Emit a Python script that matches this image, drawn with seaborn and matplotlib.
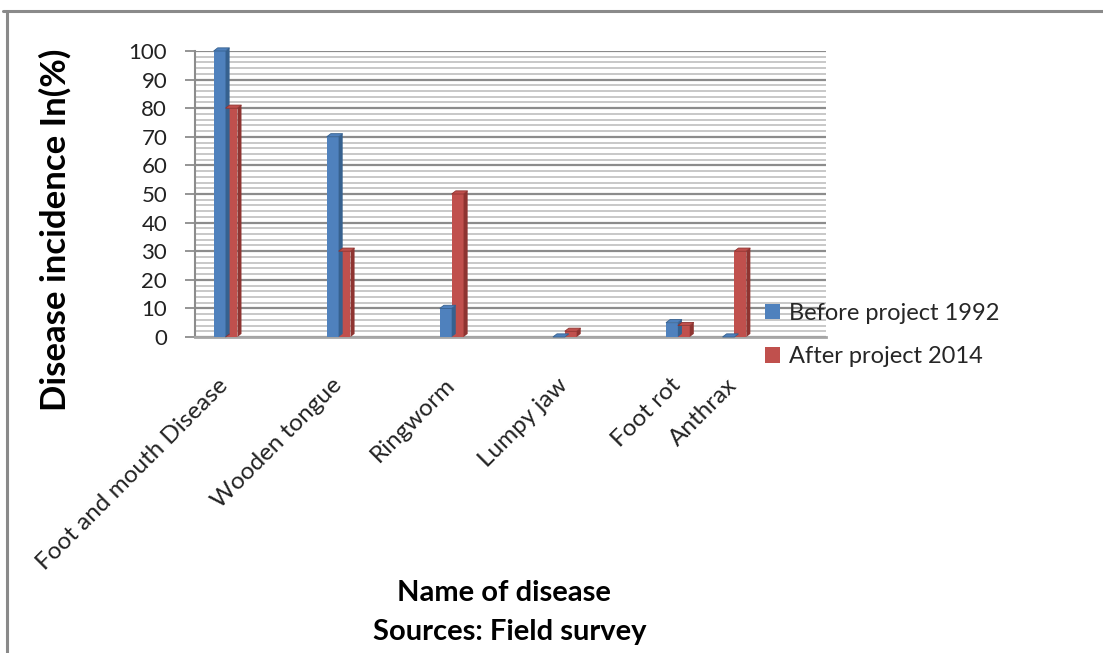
import matplotlib
matplotlib.use('Agg')
import numpy as np
import pandas as pd
import matplotlib.pyplot as plt
import matplotlib.transforms as mtransforms
from matplotlib.patches import Polygon
from matplotlib.lines import Line2D
import seaborn as sns

# ---- data ----
diseases = ["Foot and mouth Disease", "Wooden tongue", "Ringworm",
            "Lumpy jaw", "Foot rot", "Anthrax"]
before_1992 = [100, 70, 10, 0, 5, 0]
after_2014 = [80, 30, 50, 2, 4, 30]
series_names = ["Before project 1992", "After project 2014"]
y_ticks = list(range(0, 101, 10))

# category slots on the axis (Anthrax sits half a slot after Foot rot)
slot = [0, 1, 2, 3, 4, 4.5]

blue, red = "#4F81BD", "#C0504D"
blue_dark, red_dark = "#36618F", "#8E3431"

df = pd.DataFrame({
    "pos": slot * 2,
    "value": before_1992 + after_2014,
    "period": [series_names[0]] * len(diseases) + [series_names[1]] * len(diseases),
})

sns.set_theme(style="white")
plt.rcParams['font.family'] = ['Lato', 'DejaVu Sans']

fig = plt.figure(figsize=(11.03, 6.53), dpi=100)
ax = fig.add_axes([195 / 1103, 1 - 337 / 653, (826 - 195) / 1103, (337 - 51) / 653])

sns.barplot(data=df, x="pos", y="value", hue="period", native_scale=True,
            palette=[blue, red], width=0.42, gap=0, ax=ax, saturation=1,
            linewidth=0, zorder=3)

ax.set_xlim(-0.27, 5.31)
ax.set_ylim(0, 100)

# grid: light every 2, darker every 10
for v in np.arange(0, 101, 2):
    major = v % 10 == 0
    ax.axhline(v, color="#8C8C8C" if major else "#C4C4C4",
               lw=1.6 if major else 1.3, zorder=1)

# fake 3D sides and tops on each bar
dx, dy = 0.036, 1.1
for bar in ax.patches[:]:
    x0, y0 = bar.get_x(), bar.get_y()
    w, h = bar.get_width(), bar.get_height()
    if np.isnan(h):
        continue
    x1, y1 = x0 + w, y0 + h
    fc = bar.get_facecolor()
    is_blue = fc[2] > fc[0]
    dark = blue_dark if is_blue else red_dark
    top_c = blue if is_blue else red
    side = Polygon([(x1, y0), (x1 + dx, y0 + dy), (x1 + dx, y1 + dy), (x1, y1)],
                   closed=True, fc=dark, ec="none", zorder=4, clip_on=False)
    top = Polygon([(x0, y1), (x0 + dx, y1 + dy), (x1 + dx, y1 + dy), (x1, y1)],
                  closed=True, fc=top_c, ec=dark, lw=0.6, zorder=4, clip_on=False)
    ax.add_patch(side)
    ax.add_patch(top)

for s in ["top", "right"]:
    ax.spines[s].set_visible(False)
ax.spines["left"].set_color("#8C8C8C")
ax.spines["bottom"].set_color("#A6A6A6")
ax.spines["left"].set_linewidth(1.5)
ax.spines["bottom"].set_linewidth(2)

ax.set_yticks(y_ticks)
ax.set_yticklabels([str(t) for t in y_ticks], fontsize=16, color="#222222")
ax.tick_params(axis="y", length=7, width=1.3, color="#8C8C8C", pad=13, left=True)

ax.set_xticks(slot)
ax.set_xticklabels(diseases, rotation=45, ha="right", rotation_mode="anchor",
                   fontsize=17.5, color="#222222")
ax.tick_params(axis="x", length=0, pad=27)
shift = mtransforms.ScaledTranslation(-8 / 100, 0, fig.dpi_scale_trans)
for lab in ax.get_xticklabels():
    lab.set_transform(lab.get_transform() + shift)
ax.set_xlabel("")
ax.set_ylabel("")

handles, labels = ax.get_legend_handles_labels()
ax.legend(handles, labels, loc="center left", bbox_to_anchor=(765 / 1103, 1 - 335 / 653),
          bbox_transform=fig.transFigure, frameon=False, fontsize=17,
          handlelength=0.65, handleheight=0.65, handletextpad=0.35,
          labelspacing=0.95, borderpad=0, borderaxespad=0)

fig.text(55 / 1103, 1 - 230 / 653, "Disease incidence In(%)", rotation=90,
         ha="center", va="center", fontsize=25, fontweight="bold", color="black")
fig.text(504 / 1103, 1 - 593 / 653, "Name of disease", ha="center", va="center",
         fontsize=21, fontweight="bold", color="black")
fig.text(510 / 1103, 1 - 632 / 653, "Sources: Field survey", ha="center", va="center",
         fontsize=21, fontweight="bold", color="black")

# outer chart frame
fig.add_artist(Line2D([3 / 1103, 1], [1 - 11 / 653] * 2, transform=fig.transFigure,
                      color="#8A8A8A", lw=2.2))
fig.add_artist(Line2D([7 / 1103] * 2, [1 - 11 / 653, 0], transform=fig.transFigure,
                      color="#8A8A8A", lw=2.2))

fig.savefig("out.png", dpi=100)
